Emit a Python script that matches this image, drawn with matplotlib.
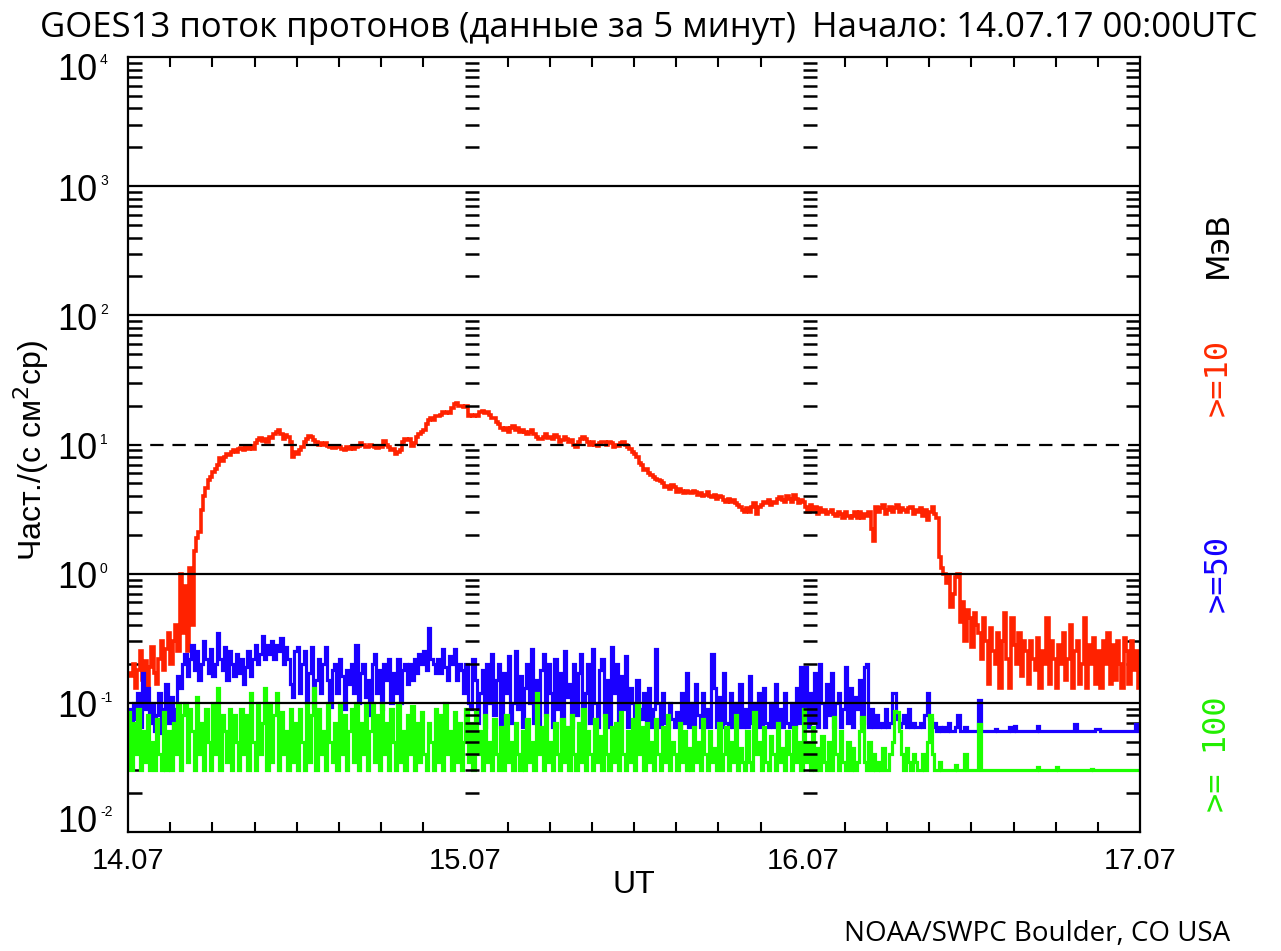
import numpy as np
import matplotlib
matplotlib.use('Agg')
from matplotlib import pyplot as plt
from matplotlib import transforms

# 10-minute samples, 14.07 00:00 UT .. 17.07 00:00 UT, one row = 2 hours
p10 = [
    0.17, 0.16, 0.2, 0.13, 0.18, 0.25, 0.15, 0.21, 0.12, 0.19, 0.27, 0.17,
    0.14, 0.22, 0.3, 0.18, 0.26, 0.35, 0.2, 0.3, 0.4, 0.25, 1.0, 0.35,
    0.8, 0.25, 1.1, 0.4, 1.5, 1.9, 2.1, 3.1, 4.0, 4.6, 5.3, 5.6,
    6.1, 6.5, 7.0, 7.8, 7.5, 8.0, 8.5, 8.3, 8.8, 9.0, 8.7, 9.2,
    9.4, 9.0, 9.6, 9.3, 9.8, 9.2, 10.2, 10.8, 11.3, 10.6, 11.0, 10.4,
    11.5, 11.2, 12.0, 12.5, 13.0, 12.0, 11.0, 11.8, 11.5, 10.5, 8.0, 8.8,
    8.5, 9.0, 9.5, 10.5, 11.0, 11.6, 11.5, 10.8, 10.5, 10.0, 10.3, 10.0,
    10.3, 9.8, 9.5, 9.4, 9.4, 9.8, 9.6, 9.2, 9.0, 9.5, 9.3, 9.6,
    9.2, 9.5, 9.8, 10.2, 10.0, 9.6, 9.5, 9.9, 9.8, 9.6, 9.4, 9.5,
    9.6, 10.6, 10.0, 9.5, 9.0, 9.3, 8.5, 8.8, 9.0, 10.5, 11.0, 10.8,
    11.0, 9.7, 10.2, 11.5, 12.0, 12.5, 13.0, 14.5, 15.6, 16.0, 15.5, 16.5,
    16.5, 17.0, 17.7, 17.5, 18.0, 17.5, 19.0, 20.5, 21.0, 20.0, 19.8, 19.5,
    19.7, 16.6, 17.0, 16.5, 17.0, 16.5, 18.0, 18.2, 17.5, 18.0, 17.0, 16.0,
    16.0, 15.0, 14.5, 13.5, 13.0, 13.5, 12.5, 13.5, 14.0, 13.0, 13.5, 12.5,
    13.0, 12.5, 12.0, 12.5, 13.0, 12.0, 11.5, 11.0, 11.0, 11.5, 12.0, 11.3,
    11.5, 11.0, 11.8, 11.5, 10.5, 10.8, 11.5, 11.0, 10.4, 10.8, 10.0, 9.5,
    10.5, 11.0, 11.5, 11.0, 10.5, 10.0, 10.5, 10.0, 9.8, 10.2, 10.5, 10.4,
    10.0, 10.5, 10.3, 9.5, 10.0, 9.7, 10.2, 10.5, 10.0, 9.5, 9.2, 8.8,
    8.5, 8.0, 7.2, 7.0, 6.4, 6.5, 6.0, 5.8, 5.6, 5.4, 5.3, 5.2,
    5.0, 4.7, 4.8, 4.5, 4.9, 4.7, 4.3, 4.5, 4.4, 4.2, 4.4, 4.3,
    4.2, 4.4, 4.3, 4.1, 4.2, 4.0, 4.1, 4.3, 4.0, 3.9, 4.1, 3.8,
    4.0, 3.9, 3.7, 3.6, 3.8, 3.6, 3.7, 3.5, 3.4, 3.3, 3.1, 3.0,
    3.2, 3.0, 3.3, 3.5, 2.9, 3.3, 3.4, 3.6, 3.5, 3.7, 3.4, 3.6,
    3.5, 3.8, 3.9, 3.7, 3.6, 4.0, 3.8, 3.6, 4.1, 3.8, 3.5, 3.7,
    3.6, 3.3, 3.0, 3.4, 3.1, 3.3, 2.9, 3.2, 3.0, 3.1, 2.9, 3.0,
    3.1, 2.9, 2.8, 3.0, 2.9, 2.7, 3.0, 2.8, 2.7, 2.8, 3.0, 2.7,
    3.0, 2.7, 2.9, 2.8, 3.0, 2.2, 1.8, 3.3, 3.0, 3.2, 3.4, 2.9,
    3.1, 3.3, 3.0, 3.2, 3.4, 3.0, 3.2, 3.1, 3.0, 3.2, 3.3, 2.9,
    3.1, 3.0, 3.2, 2.8, 3.1, 2.6, 3.0, 3.3, 2.9, 2.7, 1.35, 1.1,
    1.0, 0.85, 0.98, 0.55, 0.7, 0.95, 1.0, 0.42, 0.6, 0.3, 0.52, 0.45,
    0.27, 0.5, 0.4, 0.35, 0.22, 0.45, 0.3, 0.14, 0.38, 0.25, 0.2, 0.35,
    0.13, 0.3, 0.5, 0.22, 0.13, 0.45, 0.28, 0.2, 0.35, 0.16, 0.3, 0.25,
    0.14, 0.3, 0.22, 0.18, 0.32, 0.13, 0.25, 0.2, 0.45, 0.14, 0.3, 0.22,
    0.13, 0.28, 0.2, 0.35, 0.15, 0.22, 0.4, 0.13, 0.25, 0.3, 0.14, 0.2,
    0.45, 0.13, 0.28, 0.2, 0.32, 0.14, 0.25, 0.13, 0.3, 0.2, 0.35, 0.14,
    0.28, 0.15, 0.3, 0.2, 0.13, 0.32, 0.25, 0.14, 0.3, 0.18, 0.25, 0.13]

p50 = [
    0.09, 0.06, 0.1, 0.075, 0.12, 0.065, 0.17, 0.09, 0.13, 0.07, 0.1, 0.06,
    0.08, 0.12, 0.058, 0.09, 0.14, 0.07, 0.11, 0.06, 0.09, 0.16, 0.13, 0.2,
    0.24, 0.16, 0.22, 0.28, 0.18, 0.25, 0.15, 0.2, 0.3, 0.22, 0.17, 0.26,
    0.16, 0.2, 0.35, 0.22, 0.18, 0.27, 0.15, 0.25, 0.2, 0.16, 0.24, 0.17,
    0.22, 0.14, 0.19, 0.25, 0.16, 0.22, 0.28, 0.2, 0.24, 0.33, 0.22, 0.28,
    0.24, 0.3, 0.22, 0.28, 0.25, 0.32, 0.2, 0.27, 0.22, 0.14, 0.11, 0.25,
    0.27, 0.12, 0.2, 0.25, 0.1, 0.17, 0.27, 0.093, 0.15, 0.22, 0.12, 0.2,
    0.27, 0.15, 0.093, 0.18, 0.2, 0.12, 0.22, 0.16, 0.09, 0.18, 0.14, 0.2,
    0.12, 0.28, 0.1, 0.17, 0.2, 0.11, 0.15, 0.08, 0.2, 0.24, 0.12, 0.18,
    0.09, 0.2, 0.15, 0.22, 0.1, 0.17, 0.12, 0.22, 0.1, 0.18, 0.2, 0.14,
    0.2, 0.15, 0.22, 0.17, 0.24, 0.2, 0.25, 0.18, 0.38, 0.22, 0.2, 0.17,
    0.22, 0.17, 0.26, 0.19, 0.15, 0.23, 0.2, 0.26, 0.15, 0.2, 0.18, 0.12,
    0.2, 0.1, 0.09, 0.22, 0.15, 0.07, 0.12, 0.18, 0.065, 0.2, 0.1, 0.24,
    0.08, 0.15, 0.2, 0.065, 0.17, 0.12, 0.23, 0.07, 0.1, 0.25, 0.09, 0.16,
    0.065, 0.13, 0.2, 0.1, 0.26, 0.07, 0.15, 0.065, 0.18, 0.24, 0.08, 0.2,
    0.12, 0.065, 0.22, 0.09, 0.17, 0.065, 0.25, 0.11, 0.14, 0.065, 0.2, 0.08,
    0.17, 0.24, 0.065, 0.12, 0.2, 0.07, 0.26, 0.1, 0.065, 0.18, 0.22, 0.08,
    0.15, 0.065, 0.27, 0.12, 0.2, 0.065, 0.16, 0.09, 0.23, 0.065, 0.13, 0.1,
    0.065, 0.15, 0.09, 0.075, 0.12, 0.065, 0.13, 0.065, 0.09, 0.26, 0.1, 0.065,
    0.12, 0.07, 0.065, 0.1, 0.075, 0.065, 0.085, 0.065, 0.12, 0.07, 0.17, 0.065,
    0.1, 0.065, 0.14, 0.08, 0.065, 0.12, 0.065, 0.09, 0.065, 0.24, 0.13, 0.065,
    0.11, 0.065, 0.17, 0.07, 0.065, 0.12, 0.065, 0.1, 0.065, 0.14, 0.065, 0.09,
    0.065, 0.16, 0.07, 0.1, 0.065, 0.12, 0.065, 0.13, 0.07, 0.065, 0.1, 0.065,
    0.14, 0.065, 0.09, 0.065, 0.12, 0.07, 0.065, 0.1, 0.065, 0.13, 0.07, 0.19,
    0.08, 0.19, 0.065, 0.12, 0.07, 0.17, 0.065, 0.2, 0.1, 0.065, 0.14, 0.08,
    0.17, 0.065, 0.1, 0.12, 0.065, 0.09, 0.19, 0.07, 0.13, 0.065, 0.11, 0.09,
    0.15, 0.07, 0.19, 0.2, 0.065, 0.09, 0.065, 0.08, 0.065, 0.07, 0.065, 0.09,
    0.065, 0.07, 0.12, 0.12, 0.075, 0.065, 0.07, 0.08, 0.065, 0.09, 0.065, 0.07,
    0.065, 0.065, 0.07, 0.065, 0.08, 0.12, 0.075, 0.065, 0.07, 0.06, 0.065, 0.06,
    0.065, 0.06, 0.07, 0.06, 0.06, 0.065, 0.08, 0.06, 0.06, 0.065, 0.06, 0.06,
    0.06, 0.06, 0.06, 0.105, 0.06, 0.06, 0.06, 0.06, 0.06, 0.06, 0.063, 0.06,
    0.06, 0.06, 0.06, 0.06, 0.065, 0.06, 0.066, 0.06, 0.06, 0.06, 0.06, 0.06,
    0.06, 0.06, 0.06, 0.06, 0.066, 0.06, 0.06, 0.06, 0.06, 0.06, 0.06, 0.06,
    0.06, 0.06, 0.06, 0.06, 0.06, 0.06, 0.06, 0.06, 0.068, 0.06, 0.06, 0.06,
    0.06, 0.06, 0.06, 0.06, 0.06, 0.063, 0.063, 0.06, 0.06, 0.06, 0.06, 0.06,
    0.06, 0.06, 0.06, 0.06, 0.06, 0.06, 0.06, 0.06, 0.06, 0.06, 0.068, 0.06]

p100 = [
    0.085, 0.03, 0.07, 0.04, 0.09, 0.03, 0.06, 0.035, 0.08, 0.03, 0.05, 0.03,
    0.075, 0.04, 0.03, 0.085, 0.03, 0.06, 0.03, 0.07, 0.04, 0.1, 0.03, 0.08,
    0.1, 0.035, 0.09, 0.06, 0.03, 0.11, 0.04, 0.07, 0.03, 0.09, 0.05, 0.03,
    0.1, 0.04, 0.13, 0.03, 0.08, 0.06, 0.035, 0.09, 0.03, 0.08, 0.05, 0.03,
    0.09, 0.04, 0.08, 0.03, 0.12, 0.05, 0.03, 0.1, 0.04, 0.07, 0.13, 0.03,
    0.1, 0.035, 0.08, 0.12, 0.03, 0.085, 0.04, 0.06, 0.03, 0.09, 0.035, 0.07,
    0.03, 0.09, 0.05, 0.03, 0.1, 0.035, 0.08, 0.13, 0.03, 0.09, 0.04, 0.06,
    0.03, 0.1, 0.05, 0.035, 0.07, 0.03, 0.1, 0.04, 0.08, 0.03, 0.06, 0.09,
    0.035, 0.1, 0.03, 0.07, 0.04, 0.1, 0.03, 0.06, 0.1, 0.035, 0.08, 0.03,
    0.1, 0.04, 0.07, 0.03, 0.09, 0.05, 0.03, 0.1, 0.035, 0.06, 0.03, 0.08,
    0.04, 0.095, 0.03, 0.07, 0.035, 0.085, 0.04, 0.03, 0.07, 0.05, 0.03, 0.09,
    0.035, 0.08, 0.03, 0.1, 0.04, 0.06, 0.03, 0.085, 0.035, 0.07, 0.03, 0.05,
    0.09, 0.035, 0.07, 0.03, 0.085, 0.04, 0.06, 0.03, 0.08, 0.035, 0.05, 0.03,
    0.075, 0.04, 0.03, 0.065, 0.03, 0.08, 0.035, 0.05, 0.03, 0.07, 0.04, 0.03,
    0.06, 0.03, 0.075, 0.035, 0.05, 0.03, 0.12, 0.04, 0.065, 0.03, 0.08, 0.035,
    0.05, 0.03, 0.07, 0.04, 0.03, 0.075, 0.035, 0.065, 0.03, 0.08, 0.04, 0.03,
    0.07, 0.035, 0.09, 0.03, 0.06, 0.04, 0.03, 0.075, 0.035, 0.055, 0.03, 0.08,
    0.04, 0.03, 0.065, 0.035, 0.07, 0.03, 0.085, 0.04, 0.03, 0.06, 0.035, 0.075,
    0.03, 0.1, 0.04, 0.065, 0.03, 0.07, 0.035, 0.05, 0.03, 0.075, 0.04, 0.03,
    0.065, 0.035, 0.08, 0.03, 0.05, 0.04, 0.03, 0.07, 0.035, 0.06, 0.03, 0.045,
    0.03, 0.065, 0.035, 0.05, 0.03, 0.075, 0.04, 0.03, 0.06, 0.035, 0.045, 0.03,
    0.07, 0.03, 0.04, 0.065, 0.03, 0.05, 0.035, 0.08, 0.03, 0.045, 0.035, 0.03,
    0.06, 0.035, 0.03, 0.085, 0.04, 0.05, 0.03, 0.065, 0.035, 0.03, 0.055, 0.04,
    0.03, 0.07, 0.035, 0.045, 0.03, 0.06, 0.04, 0.03, 0.065, 0.035, 0.05, 0.03,
    0.09, 0.035, 0.05, 0.03, 0.065, 0.03, 0.045, 0.03, 0.055, 0.035, 0.03, 0.05,
    0.03, 0.077, 0.04, 0.03, 0.06, 0.035, 0.03, 0.05, 0.03, 0.045, 0.03, 0.035,
    0.06, 0.077, 0.035, 0.03, 0.05, 0.03, 0.04, 0.03, 0.035, 0.03, 0.045, 0.03,
    0.03, 0.04, 0.05, 0.086, 0.085, 0.06, 0.04, 0.03, 0.045, 0.035, 0.03, 0.04,
    0.035, 0.03, 0.03, 0.04, 0.03, 0.05, 0.08, 0.04, 0.03, 0.03, 0.035, 0.03,
    0.03, 0.03, 0.03, 0.03, 0.03, 0.033, 0.03, 0.03, 0.03, 0.04, 0.03, 0.03,
    0.03, 0.03, 0.03, 0.068, 0.03, 0.03, 0.03, 0.03, 0.03, 0.03, 0.03, 0.03,
    0.03, 0.03, 0.03, 0.03, 0.03, 0.03, 0.03, 0.03, 0.03, 0.03, 0.03, 0.03,
    0.03, 0.03, 0.03, 0.03, 0.032, 0.03, 0.03, 0.03, 0.03, 0.03, 0.03, 0.03,
    0.032, 0.03, 0.03, 0.03, 0.03, 0.03, 0.03, 0.03, 0.03, 0.03, 0.03, 0.03,
    0.03, 0.03, 0.03, 0.031, 0.03, 0.03, 0.03, 0.03, 0.03, 0.03, 0.03, 0.03,
    0.03, 0.03, 0.03, 0.03, 0.03, 0.03, 0.03, 0.03, 0.03, 0.03, 0.03, 0.03]

day_labels = ['14.07', '15.07', '16.07', '17.07']
decades = [-2, -1, 0, 1, 2, 3, 4]
channels = ['>=10', '>=50', '>= 100']
colors = ['#ff2200', '#1a00ff', '#1cff00']
label_colors = ['#ff2a00', '#1400ff', '#22ee00']

W, H = 1281, 951
fig = plt.figure(figsize=(W / 100, H / 100), dpi=100)
ax = fig.add_axes([128 / W, 1 - 832 / H, (1140 - 128) / W, (832 - 57) / H])

edges = np.arange(len(p10) + 1) / 144.0
for vals, c, lw in zip([p10, p50, p100], colors, [2.6, 2.3, 2.3]):
    ax.stairs(vals, edges, baseline=None, color=c, lw=lw, zorder=2)

ax.set_yscale('log')
ax.set_ylim(1e-2, 1e4)
ax.set_xlim(0, 3)

# horizontal reference lines at each decade, dashed at the 10 pfu level
for d in decades[1:-1]:
    ax.axhline(10.0 ** d, color='black', lw=1.6, ls=(0, (6, 4)) if d == 1 else '-', zorder=3)

for s in ax.spines.values():
    s.set_linewidth(1.6)

ax.set_xticks([0, 1, 2, 3])
ax.set_xticklabels(day_labels, fontsize=21, family='Liberation Sans')
ax.set_xticks(np.arange(1, 24) / 8.0, minor=True)
ax.tick_params(axis='x', which='major', length=0, pad=11)
ax.tick_params(axis='x', which='minor', direction='in', length=7, width=1.5, top=True, bottom=True)

ax.set_yticks([10.0 ** d for d in decades])
ax.set_yticklabels([])
ax.tick_params(axis='y', which='major', length=0)
ax.yaxis.set_minor_locator(matplotlib.ticker.LogLocator(subs=np.arange(2, 10)))
ax.yaxis.set_minor_formatter(matplotlib.ticker.NullFormatter())
ax.tick_params(axis='y', which='minor', direction='in', length=10, width=1.8, left=True, right=True)

# columns of minor ticks at the day boundaries
for day in [1, 2]:
    sub = ax.inset_axes([day / 3.0, 0, 0.0001, 1], sharey=ax)
    sub.patch.set_visible(False)
    for s in sub.spines.values():
        s.set_visible(False)
    sub.set_xticks([])
    sub.tick_params(axis='y', which='major', length=0, labelleft=False)
    sub.tick_params(axis='y', which='minor', direction='in', length=10, width=1.8,
                    left=True, right=False, labelleft=False)

# decade labels: big "10" with a small exponent
ytr = ax.get_yaxis_transform()
shift = {4: -13, -2: 10}
for d in decades:
    dy = shift.get(d, -5)
    base = transforms.offset_copy(ytr, fig=fig, x=-31, y=dy, units='dots')
    ax.text(0, 10.0 ** d, '10', transform=base, ha='right', va='center',
            fontsize=26, family='Liberation Sans')
    exp = transforms.offset_copy(ytr, fig=fig, x=-28, y=dy + 10, units='dots')
    ax.text(0, 10.0 ** d, str(d), transform=exp, ha='left', va='center',
            fontsize=10, family='Liberation Sans')

fig.text(634 / W, 1 - 885 / H, 'UT', ha='center', va='center', fontsize=23, family='Liberation Sans')
fig.text(31 / W, 1 - 450 / H, 'Част./(с см$^2$ср)', rotation=90, ha='center', va='center',
         fontsize=23, family='Liberation Sans')

title_font = ['Open Sans', 'DejaVu Sans']
fig.text(40 / W, 1 - 28 / H, 'GOES13 поток протонов (данные за 5 минут)', ha='left', va='center',
         fontsize=25, family=title_font)
fig.text(812 / W, 1 - 28 / H, 'Начало: 14.07.17 00:00UTC', ha='left', va='center',
         fontsize=25, family=title_font)
fig.text(1230 / W, 1 - 934 / H, 'NOAA/SWPC Boulder, CO USA', ha='right', va='center',
         fontsize=20, family=title_font)

fig.text(1218 / W, 1 - 244 / H, 'МэВ', rotation=90, ha='center', va='center', fontsize=23,
         color='black', family='DejaVu Sans')
for name, c, yc in zip(channels, label_colors, [378, 573, 754]):
    fig.text(1218 / W, 1 - yc / H, name, rotation=90, ha='center', va='center', fontsize=23,
             color=c, family='DejaVu Sans Mono')

fig.savefig('out.png', dpi=100)
